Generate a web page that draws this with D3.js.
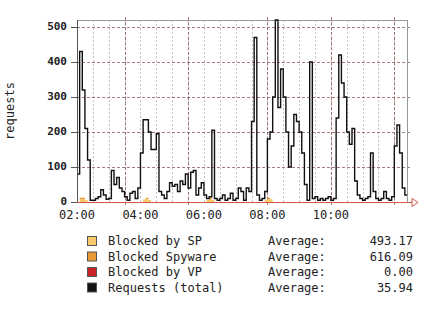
<!DOCTYPE html>
<html>
<head>
<meta charset="utf-8">
<script src="https://cdn.jsdelivr.net/npm/d3@7"></script>
<style>
  body { margin: 0; background: #fff; }
  text { font-family: "DejaVu Sans Mono", monospace; fill: #222; }
</style>
</head>
<body>
<div id="chart"></div>
<script>
// 5-minute samples starting at 02:00
const startTime = "02:00";
const stepMinutes = 5;
const endTime = "12:24";

// Requests (total)
const requests = [
  80, 430, 320, 210, 120, 5, 5, 10, 15, 35,
  20, 8, 10, 90, 50, 70, 40, 30, 15, 5,
  25, 30, 10, 40, 140, 235, 235, 200, 150, 150,
  195, 30, 20, 10, 30, 55, 45, 50, 30, 60,
  50, 80, 40, 85, 90, 20, 40, 55, 20, 10,
  15, 205, 10, 5, 10, 20, 5, 10, 25, 5,
  10, 40, 30, 5, 40, 30, 230, 470, 20, 5,
  10, 30, 180, 200, 300, 520, 270, 380, 300, 200,
  100, 160, 250, 230, 200, 140, 50, 5, 400, 10,
  15, 5, 10, 5, 10, 15, 5, 10, 240, 420,
  340, 300, 200, 165, 210, 60, 20, 10, 5, 10,
  15, 140, 30, 10, 5, 10, 30, 10, 5, 15,
  160, 220, 140, 40, 20
];

// small blocked amounts sitting on the baseline
const blockedSP = [
  0, 8, 8, 6, 0, 0, 0, 0, 0, 0,
  0, 0, 0, 0, 0, 0, 0, 0, 0, 0,
  0, 0, 0, 0, 0, 8, 8, 6, 0, 0,
  0, 0, 0, 0, 0, 0, 0, 0, 0, 0,
  0, 0, 0, 0, 0, 0, 0, 0, 0, 6,
  8, 6, 0, 0, 0, 0, 0, 0, 0, 0,
  0, 0, 0, 0, 0, 0, 0, 0, 0, 0,
  0, 6, 8, 8, 0, 0, 0, 0, 0, 0,
  0, 0, 0, 0, 0, 0, 0, 0, 0, 0,
  0, 0, 0, 0, 0, 0, 0, 0, 0, 0,
  0, 0, 0, 0, 0, 0, 0, 0, 0, 0,
  0, 0, 0, 0, 0, 0, 0, 0, 0, 0,
  0, 0, 0, 0, 0
];
const blockedSpyware = [
  0, 4, 4, 0, 0, 0, 0, 0, 0, 0,
  0, 0, 0, 0, 0, 0, 0, 0, 0, 0,
  0, 0, 0, 0, 0, 0, 4, 0, 0, 0,
  0, 0, 0, 0, 0, 0, 0, 0, 0, 0,
  0, 0, 0, 0, 0, 0, 0, 0, 0, 0,
  4, 0, 0, 0, 0, 0, 0, 0, 0, 0,
  0, 0, 0, 0, 0, 0, 0, 0, 0, 0,
  0, 0, 4, 0, 0, 0, 0, 0, 0, 0,
  0, 0, 0, 0, 0, 0, 0, 0, 0, 0,
  0, 0, 0, 0, 0, 0, 0, 0, 0, 0,
  0, 0, 0, 0, 0, 0, 0, 0, 0, 0,
  0, 0, 0, 0, 0, 0, 0, 0, 0, 0,
  0, 0, 0, 0, 0
];

const yTicks = [0, 100, 200, 300, 400, 500];
const xLabels = ["02:00", "04:00", "06:00", "08:00", "10:00"];
const majorGrid = ["03:30", "05:30", "08:00", "10:00", "12:00"];
const yMax = 520;
const yTitle = "requests";

const legendNames = ["Blocked by SP", "Blocked Spyware", "Blocked by VP", "Requests (total)"];
const legendAverages = ["493.17", "616.09", "0.00", "35.94"];
const legendColors = ["#f5c86a", "#e99a36", "#c82329", "#111111"];

function Chart({
    target,
    width = 422,
    height = 309,
    plotLeft = 77,
    plotRight = 407,
    plotTop = 20,
    plotBottom = 202,
} = {}) {
    const parse = d3.timeParse("%H:%M");
    const t0 = parse(startTime);
    const times = requests.map((d, i) => d3.timeMinute.offset(t0, i * stepMinutes));

    const svg = d3.select(target).append("svg")
        .attr("width", width)
        .attr("height", height);

    const x = d3.scaleTime().domain([t0, parse(endTime)]).range([plotLeft, plotRight]);
    const y = d3.scaleLinear().domain([0, yMax]).range([plotBottom, plotTop]);

    // minor vertical grid, every 30 minutes
    svg.append("g").selectAll("line")
        .data(x.ticks(d3.timeMinute.every(30)))
        .enter().append("line")
        .attr("x1", d => Math.round(x(d)) + 0.5).attr("x2", d => Math.round(x(d)) + 0.5)
        .attr("y1", plotTop).attr("y2", plotBottom)
        .attr("stroke", "#c4c4c4").attr("stroke-dasharray", "2,2");

    // major vertical grid
    svg.append("g").selectAll("line")
        .data(majorGrid.map(parse))
        .enter().append("line")
        .attr("x1", d => Math.round(x(d)) + 0.5).attr("x2", d => Math.round(x(d)) + 0.5)
        .attr("y1", plotTop - 3).attr("y2", plotBottom + 3)
        .attr("stroke", "#8a5050").attr("stroke-opacity", 0.75).attr("stroke-dasharray", "3,2");

    // horizontal grid
    svg.append("g").selectAll("line")
        .data(yTicks.filter(d => d > 0))
        .enter().append("line")
        .attr("x1", plotLeft - 5).attr("x2", plotRight + 3)
        .attr("y1", d => Math.round(y(d)) + 0.5).attr("y2", d => Math.round(y(d)) + 0.5)
        .attr("stroke", "#8a5050").attr("stroke-opacity", 0.75).attr("stroke-dasharray", "3,2");

    // frame top / right
    svg.append("line")
        .attr("x1", plotLeft).attr("x2", plotRight + 0.5)
        .attr("y1", plotTop + 0.5).attr("y2", plotTop + 0.5)
        .attr("stroke", "#999");
    svg.append("line")
        .attr("x1", plotRight + 0.5).attr("x2", plotRight + 0.5)
        .attr("y1", plotTop).attr("y2", plotBottom)
        .attr("stroke", "#999");

    // stacked blocked areas
    const rows = times.map((t, i) => ({t, sp: blockedSP[i], spy: blockedSpyware[i]}));
    rows.push({t: parse(endTime), sp: 0, spy: 0});
    const stacked = d3.stack().keys(["sp", "spy"])(rows);
    const area = d3.area()
        .curve(d3.curveStepAfter)
        .x(d => x(d.data.t))
        .y0(d => y(d[0]))
        .y1(d => y(d[1]));
    svg.append("g").selectAll("path")
        .data(stacked)
        .enter().append("path")
        .attr("d", area)
        .attr("fill", (d, i) => legendColors[i]);

    // requests step line
    const pts = times.map((t, i) => [t, requests[i]]);
    pts.push([parse(endTime), requests[requests.length - 1]]);
    const line = d3.line()
        .curve(d3.curveStepAfter)
        .x(d => x(d[0]))
        .y(d => y(d[1]));
    svg.append("path")
        .attr("d", line(pts))
        .attr("fill", "none")
        .attr("stroke", "#111")
        .attr("stroke-width", 1.4);

    // y axis line
    svg.append("line")
        .attr("x1", plotLeft + 0.5).attr("x2", plotLeft + 0.5)
        .attr("y1", plotTop).attr("y2", plotBottom)
        .attr("stroke", "#555");

    // x axis line with arrow
    svg.append("line")
        .attr("x1", plotLeft - 6).attr("x2", plotRight + 6)
        .attr("y1", plotBottom + 0.5).attr("y2", plotBottom + 0.5)
        .attr("stroke", "#d0584c").attr("stroke-width", 1.2);
    svg.append("path")
        .attr("d", `M${plotRight + 5},${plotBottom - 3.5} L${plotRight + 11},${plotBottom + 0.5} L${plotRight + 5},${plotBottom + 4.5} Z`)
        .attr("fill", "#fff").attr("stroke", "#d0584c");

    // y tick marks + labels
    svg.append("g").selectAll("line")
        .data(yTicks)
        .enter().append("line")
        .attr("x1", plotLeft - 6).attr("x2", plotLeft)
        .attr("y1", d => Math.round(y(d)) + 0.5).attr("y2", d => Math.round(y(d)) + 0.5)
        .attr("stroke", "#555");
    svg.append("g").selectAll("text")
        .data(yTicks)
        .enter().append("text")
        .attr("x", plotLeft - 10).attr("y", d => y(d) - 1)
        .attr("dy", "0.35em")
        .attr("text-anchor", "end")
        .style("font-size", "11px").style("font-weight", "bold")
        .text(d => d);

    // x labels
    svg.append("g").selectAll("text")
        .data(xLabels)
        .enter().append("text")
        .attr("x", d => x(parse(d))).attr("y", plotBottom + 17)
        .attr("text-anchor", "middle")
        .style("font-size", "12px")
        .text(d => d);

    // y title
    svg.append("text")
        .attr("transform", `translate(14,${(plotTop + plotBottom) / 2}) rotate(-90)`)
        .attr("text-anchor", "middle")
        .style("font-size", "12px")
        .text(yTitle);

    // legend
    const lg = svg.append("g").selectAll("g")
        .data(legendNames)
        .enter().append("g")
        .attr("transform", (d, i) => `translate(0,${241 + i * 15.5})`);
    lg.append("rect")
        .attr("x", 87.5).attr("y", -4.5)
        .attr("width", 9).attr("height", 9)
        .attr("fill", (d, i) => legendColors[i])
        .attr("stroke", "#555");
    lg.append("text")
        .attr("x", 108).attr("dy", "0.35em")
        .style("font-size", "12px")
        .text(d => d);
    lg.append("text")
        .attr("x", 268).attr("dy", "0.35em")
        .style("font-size", "12px")
        .text("Average:");
    lg.append("text")
        .attr("x", 413).attr("dy", "0.35em")
        .attr("text-anchor", "end")
        .style("font-size", "12px")
        .text((d, i) => legendAverages[i]);
}

Chart({ target: "#chart" });
</script>
</body>
</html>
